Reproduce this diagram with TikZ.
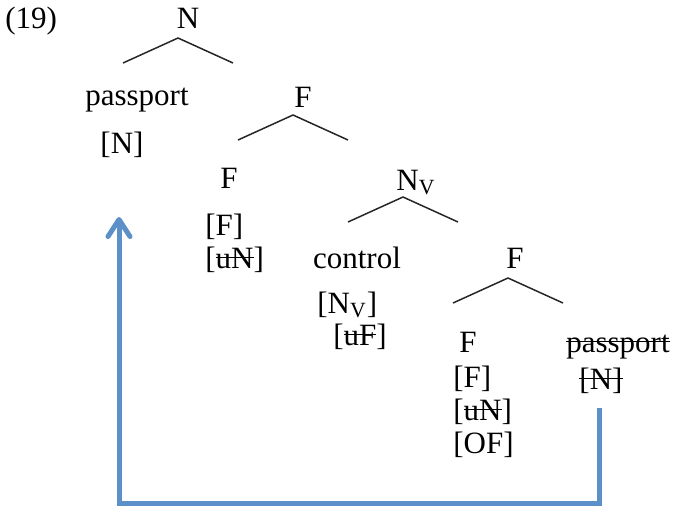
\documentclass[tikz,border=0pt]{standalone}
\usepackage{fontspec}
\setmainfont{Liberation Serif}
\usepackage{tikz}
\usetikzlibrary{arrows.meta}

\newcommand{\struck}[1]{\setbox0\hbox{#1}\rlap{\rule[0.31em]{\wd0}{0.7pt}}\box0}
\definecolor{movecol}{RGB}{91,144,201}

\begin{document}
\begin{tikzpicture}[x=0.5pt,y=-0.5pt,
    every node/.style={inner sep=0pt,font=\fontsize{15.5}{18}\selectfont},
    lbl/.style={anchor=base},
    feat/.style={anchor=base west},
    branch/.style={line width=0.75pt,black!85},
    movement/.style={line width=2.5pt,movecol,-{Straight Barb[length=8.5pt,width=11pt,round]}}]
  \useasboundingbox (0,0) rectangle (673,510);

  \node[feat] (ex)    at (5,28)    {(19)};
  \node[lbl]  (nTop)  at (188,28)  {N};
  \node[lbl]  (pass)  at (137,105) {passport};
  \node[lbl]  (passN) at (122,153) {[N]};
  \node[lbl]  (fTwo)  at (303,107) {F};

  \node[lbl]  (fThree)  at (229,188) {F};
  \node[feat] (fThreeA) at (205,235) {[F]};
  \node[feat] (fThreeB) at (205,268) {[\struck{uN}]};
  \node[lbl]  (nV)      at (416,190) {N\textsubscript{V}};

  \node[lbl]  (ctrl)  at (357,268) {control};
  \node[feat] (ctrlA) at (317,313) {[N\textsubscript{V}]};
  \node[feat] (ctrlB) at (333,345) {[\struck{uF}]};
  \node[lbl]  (fFour) at (515,268) {F};

  \node[lbl]  (fFive)  at (468,352) {F};
  \node[feat] (fFiveA) at (453,387) {[F]};
  \node[feat] (fFiveB) at (453,420) {[\struck{uN}]};
  \node[feat] (fFiveC) at (453,453) {[OF]};
  \node[lbl]  (trace)  at (618,352) {\struck{passport}};
  \node[lbl]  (traceN) at (601,389) {\struck{[N]}};

  % branches hang just under each mother label
  \foreach \m/\dx/\dy in {nTop/-10/10, fTwo/-10/8, nV/-13/7, fFour/-7/10}
    \draw[branch] ([shift={(\dx-55,\dy+25)}]\m.base) -- ([shift={(\dx,\dy)}]\m.base)
      -- ([shift={(\dx+55,\dy+25)}]\m.base);

  % movement of passport
  \coordinate (floor)   at (119,503);
  \coordinate (landing) at (119,217);
  \draw[movement,shorten <=7pt] ([xshift=-1pt]traceN.south) -- ([xshift=-1pt]traceN.south |- floor) -| (landing);
\end{tikzpicture}
\end{document}
